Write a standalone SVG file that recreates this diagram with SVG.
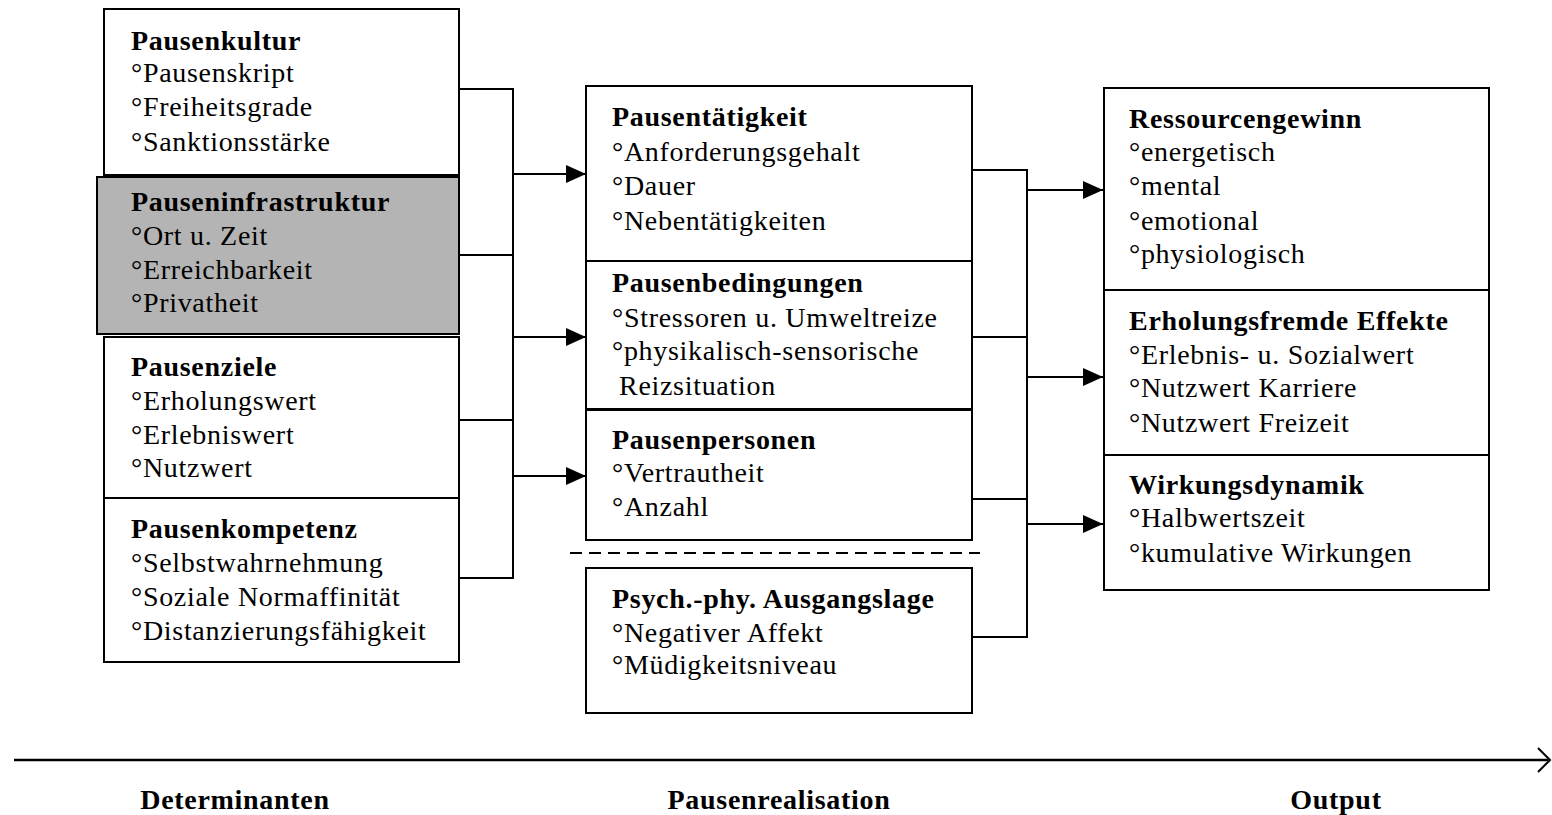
<svg xmlns="http://www.w3.org/2000/svg" width="1552" height="815" viewBox="0 0 1552 815">
<defs>
<style>
.box{fill:#fff;stroke:#000;stroke-width:2}
.gray{fill:#b4b4b4;stroke:#000;stroke-width:2}
text{font-family:"Liberation Serif","Times New Roman",serif;font-size:28px;letter-spacing:0.7px;fill:#000}
.h{font-weight:bold}
.ln{fill:none;stroke:#000;stroke-width:2}
</style>
<marker id="ah" markerWidth="20" markerHeight="18" refX="20" refY="9" orient="auto" markerUnits="userSpaceOnUse">
<path d="M0,0 L20,9 L0,18 Z" fill="#000"/>
</marker>
</defs>
<rect width="1552" height="815" fill="#fff"/>

<g id="pausenkultur">
<rect class="box" x="104" y="9" width="355" height="166"/>
<text class="h" x="131" y="50">Pausenkultur</text>
<text x="131" y="82">°Pausenskript</text>
<text x="131" y="116">°Freiheitsgrade</text>
<text x="131" y="151">°Sanktionsstärke</text>
</g>
<g id="pauseninfrastruktur">
<rect class="gray" x="97" y="177" width="362" height="157"/>
<text class="h" x="131" y="211">Pauseninfrastruktur</text>
<text x="131" y="245">°Ort u. Zeit</text>
<text x="131" y="279">°Erreichbarkeit</text>
<text x="131" y="312">°Privatheit</text>
</g>
<g id="pausenziele">
<rect class="box" x="104" y="337" width="355" height="161"/>
<text class="h" x="131" y="376">Pausenziele</text>
<text x="131" y="410">°Erholungswert</text>
<text x="131" y="444">°Erlebniswert</text>
<text x="131" y="477">°Nutzwert</text>
</g>
<g id="pausenkompetenz">
<rect class="box" x="104" y="498" width="355" height="164"/>
<text class="h" x="131" y="538">Pausenkompetenz</text>
<text x="131" y="572">°Selbstwahrnehmung</text>
<text x="131" y="606">°Soziale Normaffinität</text>
<text x="131" y="640">°Distanzierungsfähigkeit</text>
</g>

<g id="pausentaetigkeit">
<rect class="box" x="586" y="86" width="386" height="175"/>
<text class="h" x="612" y="126">Pausentätigkeit</text>
<text x="612" y="161">°Anforderungsgehalt</text>
<text x="612" y="195">°Dauer</text>
<text x="612" y="230">°Nebentätigkeiten</text>
</g>
<g id="pausenbedingungen">
<rect class="box" x="586" y="261" width="386" height="148"/>
<text class="h" x="612" y="292">Pausenbedingungen</text>
<text x="612" y="327">°Stressoren u. Umweltreize</text>
<text x="612" y="360">°physikalisch-sensorische</text>
<text x="619" y="395">Reizsituation</text>
</g>
<g id="pausenpersonen">
<rect class="box" x="586" y="410" width="386" height="130"/>
<text class="h" x="612" y="449">Pausenpersonen</text>
<text x="612" y="482">°Vertrautheit</text>
<text x="612" y="516">°Anzahl</text>
</g>
<g id="ausgangslage">
<rect class="box" x="586" y="568" width="386" height="145"/>
<text class="h" x="612" y="608">Psych.-phy. Ausgangslage</text>
<text x="612" y="642">°Negativer Affekt</text>
<text x="612" y="674">°Müdigkeitsniveau</text>
</g>

<g id="ressourcengewinn">
<rect class="box" x="1104" y="88" width="385" height="202"/>
<text class="h" x="1129" y="128">Ressourcengewinn</text>
<text x="1129" y="161">°energetisch</text>
<text x="1129" y="195">°mental</text>
<text x="1129" y="230">°emotional</text>
<text x="1129" y="263">°physiologisch</text>
</g>
<g id="erholungsfremde-effekte">
<rect class="box" x="1104" y="290" width="385" height="165"/>
<text class="h" x="1129" y="330">Erholungsfremde Effekte</text>
<text x="1129" y="364">°Erlebnis- u. Sozialwert</text>
<text x="1129" y="397">°Nutzwert Karriere</text>
<text x="1129" y="432">°Nutzwert Freizeit</text>
</g>
<g id="wirkungsdynamik">
<rect class="box" x="1104" y="455" width="385" height="135"/>
<text class="h" x="1129" y="494">Wirkungsdynamik</text>
<text x="1129" y="527">°Halbwertszeit</text>
<text x="1129" y="562">°kumulative Wirkungen</text>
</g>

<g id="connectors">
<polyline class="ln" points="459,89 513,89 513,578 459,578"/>
<line class="ln" x1="459" y1="255" x2="513" y2="255"/>
<line class="ln" x1="459" y1="420" x2="513" y2="420"/>
<line class="ln" x1="513" y1="174" x2="586" y2="174" marker-end="url(#ah)"/>
<line class="ln" x1="513" y1="337" x2="586" y2="337" marker-end="url(#ah)"/>
<line class="ln" x1="513" y1="476" x2="586" y2="476" marker-end="url(#ah)"/>

<polyline class="ln" points="972,170 1027,170 1027,637 972,637"/>
<line class="ln" x1="972" y1="337" x2="1027" y2="337"/>
<line class="ln" x1="972" y1="499" x2="1027" y2="499"/>
<line class="ln" x1="1027" y1="190" x2="1103" y2="190" marker-end="url(#ah)"/>
<line class="ln" x1="1027" y1="377" x2="1103" y2="377" marker-end="url(#ah)"/>
<line class="ln" x1="1027" y1="524" x2="1103" y2="524" marker-end="url(#ah)"/>

<line x1="570" y1="553" x2="980" y2="553" stroke="#000" stroke-width="2" stroke-dasharray="12 7"/>
</g>

<g id="axis">
<line x1="14" y1="760" x2="1548" y2="760" stroke="#000" stroke-width="2.5"/>
<polyline points="1538,748 1550,760 1538,772" fill="none" stroke="#000" stroke-width="2"/>
<text class="h" x="235" y="809" text-anchor="middle">Determinanten</text>
<text class="h" x="779" y="809" text-anchor="middle">Pausenrealisation</text>
<text class="h" x="1336" y="809" text-anchor="middle">Output</text>
</g>
</svg>
